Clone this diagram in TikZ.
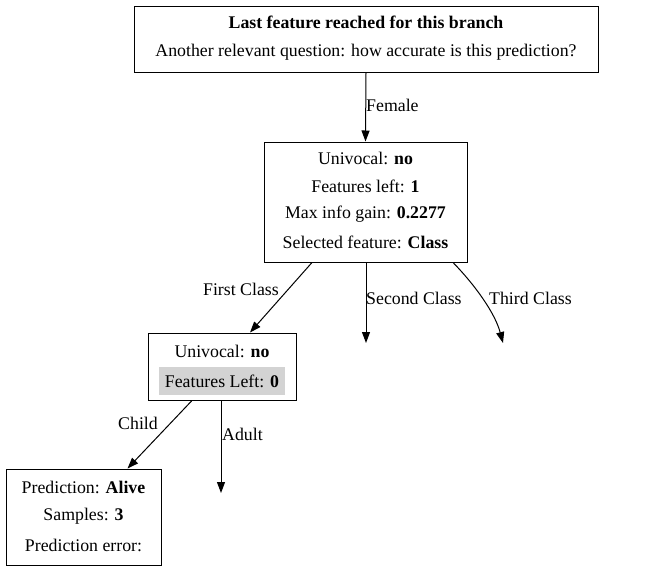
\documentclass[tikz,border=0pt]{standalone}
\usepackage{fontspec}
\setmainfont{Liberation Serif}
\usetikzlibrary{arrows.meta}
\definecolor{hl}{HTML}{D3D3D3}
\begin{document}
\begin{tikzpicture}[x=1pt,y=-1pt,
  every node/.style={font=\fontsize{17.8}{21}\selectfont, inner sep=0pt},
  box/.style={draw, line width=1pt, rectangle, align=center},
  edge/.style={line width=1pt, -{Triangle[length=11pt,width=8pt]}}]
\useasboundingbox (0,0) rectangle (647,571);
% top box
\node[box, minimum width=464, minimum height=66] (top) at (366,39) {};
\node (t1) at (366,22) {\bfseries Last feature reached for this branch};
\node (t2) at (366,52) {Another relevant question: how accurate is this prediction?};
% mid box
\node[box, minimum width=203, minimum height=120] (mid) at (365.5,202) {};
\node (m1) at (365.5,158) {Univocal: \textbf{no}};
\node (m2) at (365.5,186) {Features left: \textbf{1}};
\node (m3) at (365.5,214) {Max info gain: \textbf{0.2277}};
\node (m4) at (365.5,242) {Selected feature: \textbf{Class}};
% box 3
\node[box, minimum width=148, minimum height=67] (b3) at (222,366.5) {};
\node (b3a) at (222,351) {Univocal: \textbf{no}};
\node[fill=hl, minimum width=126, minimum height=28] (b3b) at (222,381) {Features Left: \textbf{0}};
% box 4
\node[box, minimum width=155, minimum height=96] (b4) at (83.5,517) {};
\node (b4a) at (83.5,487) {Prediction: \textbf{Alive}};
\node (b4b) at (83.5,516) {Samples: \textbf{3}};
\node (b4c) at (83.5,545) {Prediction error:};
% free ends
\coordinate (e2) at (366,343);
\coordinate (e3) at (503,343);
\coordinate (e5) at (221,493);
% edges
\draw[edge] (top.south) -- (mid.north);
\node[anchor=west] (lf) at (366,105) {Female};
\draw[edge] ([xshift=-53.5]mid.south) -- ([xshift=28]b3.north);
\node[anchor=east] (l1) at (279,289) {First Class};
\draw[edge] ([xshift=0.5]mid.south) -- (e2);
\node[anchor=west] (l2) at (366,298) {Second Class};
\draw[edge] ([xshift=87.5]mid.south) .. controls (475,285) and (495,313) .. (e3);
\node[anchor=west] (l3) at (489,298) {Third Class};
\draw[edge] ([xshift=-30]b3.south) -- ([xshift=44]b4.north);
\node[anchor=east] (l4) at (158,423) {Child};
\draw[edge] ([xshift=-1]b3.south) -- (e5);
\node[anchor=west] (l5) at (222,434) {Adult};
\end{tikzpicture}
\end{document}
